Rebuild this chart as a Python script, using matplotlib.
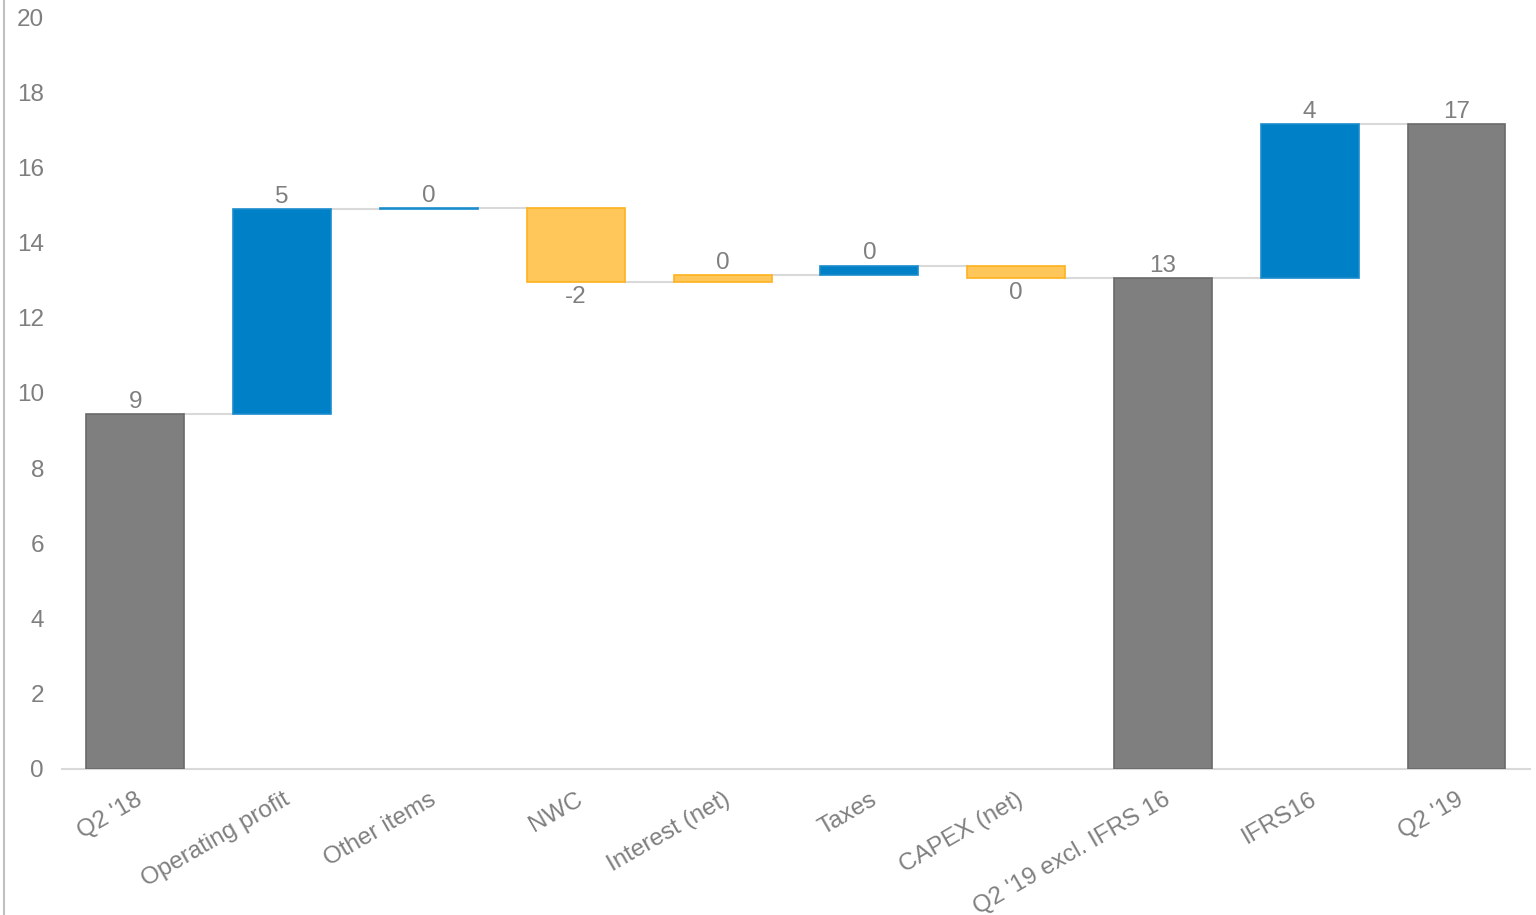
import numpy as np
import matplotlib.pyplot as plt
from matplotlib.lines import Line2D

plt.rcParams['font.family'] = ['Liberation Sans', 'DejaVu Sans']

# Bridge from Q2 '18 to Q2 '19
categories = ['Q2 \'18', 'Operating profit', 'Other items', 'NWC', 'Interest (net)',
              'Taxes', 'CAPEX (net)', 'Q2 \'19 excl. IFRS 16', 'IFRS16', 'Q2 \'19']
# totals are absolute levels, the rest are changes
values = [9.44, 5.45, 0.02, -1.96, 0.19, 0.25, -0.34, 13.05, 4.10, 17.15]
kinds = ['total', 'up', 'up', 'down', 'down', 'up', 'down', 'total', 'up', 'total']
labels = ['9', '5', '0', '-2', '0', '0', '0', '13', '4', '17']

face = {'total': '#7f7f7f', 'up': '#0080c6', 'down': '#ffc65a'}
edge = {'total': '#6a6a6a', 'up': '#1a8ccc', 'down': '#ffb21e'}

GRAY = '#7f7f7f'
FS = 17.5

fig = plt.figure(figsize=(15.36, 9.15), dpi=100)
ax = fig.add_axes([0.0404, 0.1596, 0.9556, 0.8218])

x = np.arange(len(categories))
w = 0.667
bottoms, tops = [], []
level = 0.0
for v, k in zip(values, kinds):
    if k == 'total':
        b, t = 0.0, v
        level = v
    else:
        b, t = level, level + v
        level = t
    bottoms.append(min(b, t))
    tops.append(max(b, t))

heights = np.array(tops) - np.array(bottoms)
ax.bar(x, heights, bottom=bottoms, width=w,
       color=[face[k] for k in kinds], edgecolor=[edge[k] for k in kinds],
       linewidth=1.2, zorder=3)

# connector lines between bars
level = 0.0
ends = []
for v, k in zip(values, kinds):
    level = v if k == 'total' else level + v
    ends.append(level)
for i in range(len(x) - 1):
    ax.plot([x[i] + w / 2, x[i + 1] - w / 2], [ends[i], ends[i]],
            color='#d9d9d9', lw=1.5, zorder=2)

# value labels
for i, (v, k) in enumerate(zip(values, kinds)):
    if v < 0:
        ax.annotate(labels[i], (x[i], bottoms[i]), xytext=(0, -3),
                    textcoords='offset points', ha='center', va='top',
                    fontsize=FS, color=GRAY)
    else:
        ax.annotate(labels[i], (x[i], tops[i]), xytext=(0, 1),
                    textcoords='offset points', ha='center', va='bottom',
                    fontsize=FS, color=GRAY)

ax.set_xlim(-0.5, len(x) - 0.5)
ax.set_ylim(0, 20)
ax.set_yticks(range(0, 21, 2))
ax.set_xticks(x)
ax.set_xticklabels(categories, rotation=30, ha='right', rotation_mode='anchor')
ax.tick_params(axis='both', length=0, labelsize=FS, labelcolor=GRAY)
ax.tick_params(axis='y', pad=13)
ax.tick_params(axis='x', pad=14)
for s in ['top', 'right', 'left']:
    ax.spines[s].set_visible(False)
ax.spines['bottom'].set_color('#d9d9d9')
ax.spines['bottom'].set_linewidth(1.5)

fig.add_artist(Line2D([0.0028, 0.0028], [0, 1], color='#bfbfbf', lw=1.5))

fig.savefig('out.png', dpi=100)
